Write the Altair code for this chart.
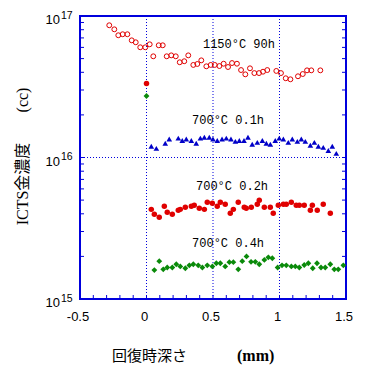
import altair as alt
import pandas as pd

BLUE = "#0000dd"

# 1150°C 90h (open red circles)
red_open_x = [-0.280, -0.242, -0.212, -0.179, -0.144, -0.111, -0.081, -0.047, -0.009, 0.024,
              0.051, 0.092, 0.122, 0.152, 0.186, 0.220, 0.250, 0.284, 0.314, 0.352,
              0.382, 0.412, 0.450, 0.483, 0.513, 0.548, 0.580, 0.613, 0.643, 0.680,
              0.711, 0.743, 0.778, 0.811, 0.846, 0.876, 0.908, 0.976, 1.011, 1.047,
              1.082, 1.139, 1.175, 1.207, 1.239, 1.307]
red_open_y = [8.6e16, 8.05e16, 7.31e16, 7.43e16, 7.43e16, 6.73e16, 6.52e16, 6.01e16, 6.01e16, 6.31e16,
              5.19e16, 6.21e16, 6.21e16, 5.19e16, 5.27e16, 5.19e16, 4.71e16, 4.79e16, 5.27e16, 4.51e16,
              4.58e16, 4.86e16, 4.41e16, 4.51e16, 4.51e16, 4.43e16, 4.60e16, 4.36e16, 4.65e16, 4.60e16,
              4.15e16, 3.87e16, 4.27e16, 3.95e16, 3.95e16, 4.04e16, 4.15e16, 4.09e16, 3.95e16, 3.63e16,
              3.57e16, 3.75e16, 3.89e16, 4.13e16, 4.13e16, 4.13e16]

# 700°C 0.1h (blue triangles)
blue_x = [0.036, 0.074, 0.141, 0.171, 0.239, 0.269, 0.299, 0.337, 0.374, 0.405,
          0.435, 0.472, 0.500, 0.532, 0.568, 0.600, 0.635, 0.668, 0.698, 0.733,
          0.763, 0.795, 0.833, 0.871, 0.901, 0.931, 0.968, 0.998, 1.029, 1.066,
          1.096, 1.134, 1.164, 1.194, 1.232, 1.262, 1.292, 1.329, 1.367, 1.397, 1.427]
blue_y = [1.20e16, 1.16e16, 1.26e16, 1.35e16, 1.37e16, 1.32e16, 1.35e16, 1.32e16, 1.26e16, 1.37e16,
          1.39e16, 1.39e16, 1.35e16, 1.32e16, 1.35e16, 1.37e16, 1.35e16, 1.30e16, 1.32e16, 1.32e16,
          1.39e16, 1.24e16, 1.28e16, 1.32e16, 1.26e16, 1.24e16, 1.32e16, 1.37e16, 1.35e16, 1.28e16,
          1.35e16, 1.30e16, 1.35e16, 1.30e16, 1.22e16, 1.28e16, 1.20e16, 1.18e16, 1.12e16, 1.20e16, 1.07e16]

# 700°C 0.2h (filled red circles)
red_x = [0.0, 0.036, 0.059, 0.096, 0.134, 0.156, 0.194, 0.239, 0.254, 0.292, 0.337,
         0.359, 0.397, 0.435, 0.457, 0.495, 0.532, 0.555, 0.592, 0.630, 0.653,
         0.690, 0.735, 0.750, 0.788, 0.833, 0.848, 0.886, 0.931, 0.953, 0.991,
         1.029, 1.051, 1.089, 1.126, 1.149, 1.186, 1.232, 1.247, 1.284, 1.329, 1.382]
red_y = [3.34e16, 4.30e15, 3.97e15, 3.78e15, 4.52e15, 4.10e15, 3.97e15, 4.24e15, 4.30e15, 4.45e15, 4.52e15,
         4.59e15, 4.38e15, 4.30e15, 4.82e15, 4.75e15, 4.52e15, 4.82e15, 4.67e15, 4.03e15, 4.30e15,
         4.82e15, 4.45e15, 4.38e15, 4.45e15, 4.67e15, 4.98e15, 4.45e15, 4.45e15, 4.03e15, 4.59e15,
         4.67e15, 4.67e15, 4.82e15, 4.59e15, 4.59e15, 4.59e15, 4.24e15, 4.59e15, 4.24e15, 4.67e15, 4.03e15]

# 700°C 0.4h (green diamonds)
green_x = [0.0, 0.059, 0.096, 0.126, 0.156, 0.194, 0.224, 0.254, 0.292, 0.322, 0.352,
           0.389, 0.420, 0.457, 0.495, 0.525, 0.555, 0.592, 0.623, 0.653,
           0.690, 0.720, 0.752, 0.786, 0.818, 0.848, 0.886, 0.916, 0.946, 0.986,
           1.019, 1.051, 1.089, 1.119, 1.149, 1.186, 1.217, 1.250, 1.282, 1.312,
           1.344, 1.382, 1.412, 1.442, 1.480]
green_y = [2.72e16, 1.60e15, 1.85e15, 1.62e15, 1.67e15, 1.67e15, 1.76e15, 1.70e15, 1.65e15, 1.73e15, 1.76e15,
           1.73e15, 1.67e15, 1.73e15, 1.70e15, 1.79e15, 1.79e15, 1.70e15, 1.82e15, 1.82e15,
           1.62e15, 1.85e15, 2.00e15, 1.83e15, 1.83e15, 1.76e15, 1.89e15, 1.97e15, 1.94e15, 1.67e15,
           1.73e15, 1.73e15, 1.70e15, 1.70e15, 1.67e15, 1.74e15, 1.79e15, 1.65e15, 1.79e15, 1.67e15,
           1.67e15, 1.76e15, 1.62e15, 1.62e15, 1.73e15]

# annotations
ann_labels = ["1150°C 90h", "700°C 0.1h", "700°C 0.2h", "700°C 0.4h"]
ann_x = [0.695, 0.613, 0.643, 0.613]
ann_y = [6.34e16, 1.84e16, 6.32e15, 2.50e15]

# axis ticks / labels
x_ticks = [-0.5, -0.4, -0.3, -0.2, -0.1, 0.0, 0.1, 0.2, 0.3, 0.4, 0.5, 0.6, 0.7, 0.8, 0.9,
           1.0, 1.1, 1.2, 1.3, 1.4, 1.5]
x_label_values = [-0.5, 0.0, 0.5, 1.0, 1.5]
x_label_text = ["-0.5", "0", "0.5", "1", "1.5"]
y_ticks = [2e15, 3e15, 4e15, 5e15, 6e15, 7e15, 8e15, 9e15,
           1e16, 2e16, 3e16, 4e16, 5e16, 6e16, 7e16, 8e16, 9e16]
y_label_values = [1e15, 1e16, 1e17]
y_label_exps = ["15", "16", "17"]
grid_x = [0.0, 0.5, 1.0]
grid_y = [1e16]
x_title_parts = ["回復時深さ", "(mm)"]
y_title_parts = ["ICTS金濃度", "(cc)"]

W, H = 266, 283
xscale = alt.Scale(domain=[-0.5, 1.5], nice=False, zero=False)
yscale = alt.Scale(type="log", domain=[1e15, 1e17], nice=False)

df_ro = pd.DataFrame({"x": red_open_x, "y": red_open_y})
df_b = pd.DataFrame({"x": blue_x, "y": blue_y})
df_r = pd.DataFrame({"x": red_x, "y": red_y})
df_g = pd.DataFrame({"x": green_x, "y": green_y})
df_ann = pd.DataFrame({"label": ann_labels, "x": ann_x, "y": ann_y})
df_yl = pd.DataFrame({"v": y_label_values, "e": y_label_exps})
df_xl = pd.DataFrame({"v": x_label_values, "t": x_label_text})
df_xt = pd.DataFrame({"v": x_ticks})
df_yt = pd.DataFrame({"v": y_ticks})
df_gx = pd.DataFrame({"gx": grid_x})
df_gy = pd.DataFrame({"gy": grid_y})

X = lambda f: alt.X(f, scale=xscale, axis=None)
Y = lambda f: alt.Y(f, scale=yscale, axis=None)

gridx = alt.Chart(df_gx).mark_rule(color=BLUE, strokeWidth=1, strokeDash=[1, 2]).encode(x=X("gx:Q"))
gridy = alt.Chart(df_gy).mark_rule(color=BLUE, strokeWidth=1, strokeDash=[1, 2]).encode(y=Y("gy:Q"))

ticks_b = alt.Chart(df_xt).mark_rule(color=BLUE, strokeWidth=1).encode(
    x=X("v:Q"), y=alt.value(H - 4), y2=alt.value(H))
ticks_l = alt.Chart(df_yt).mark_rule(color=BLUE, strokeWidth=1).encode(
    y=Y("v:Q"), x=alt.value(0), x2=alt.value(4))
ticks_r = alt.Chart(df_yt).mark_rule(color=BLUE, strokeWidth=1).encode(
    y=Y("v:Q"), x=alt.value(W - 4), x2=alt.value(W))

ro = alt.Chart(df_ro).mark_point(shape="circle", filled=False, color="#e00000", strokeWidth=1, size=24, opacity=1).encode(x=X("x:Q"), y=Y("y:Q"))
bl = alt.Chart(df_b).mark_point(shape="triangle-up", filled=True, color="#0000c8", size=32, opacity=1).encode(x=X("x:Q"), y=Y("y:Q"))
rf = alt.Chart(df_r).mark_point(shape="circle", filled=True, color="#e00000", size=30, opacity=1).encode(x=X("x:Q"), y=Y("y:Q"))
gr = alt.Chart(df_g).mark_point(shape="diamond", filled=True, color="#0a8a0a", size=34, opacity=1).encode(x=X("x:Q"), y=Y("y:Q"))

ann = alt.Chart(df_ann).mark_text(font="Liberation Mono", fontSize=12, color="black", align="center", baseline="middle").encode(
    x=X("x:Q"), y=Y("y:Q"), text="label:N")

ten = alt.Chart(df_yl).mark_text(font="Liberation Sans", fontSize=13, color="black", align="right", baseline="alphabetic", dy=8).encode(
    x=alt.value(-20), y=Y("v:Q"), text=alt.value("10"))
exps = alt.Chart(df_yl).mark_text(font="Liberation Sans", fontSize=10.5, color="black", align="left", baseline="alphabetic", dy=2.5).encode(
    x=alt.value(-19), y=Y("v:Q"), text="e:N")

xlab = alt.Chart(df_xl).mark_text(font="Liberation Sans", fontSize=13, color="black", align="center", baseline="top", dx=-2).encode(
    x=X("v:Q"), y=alt.value(H + 12), text="t:N")

df_xt1 = pd.DataFrame({"t": [x_title_parts[0]]})
df_xt2 = pd.DataFrame({"t": [x_title_parts[1]]})
df_yt1 = pd.DataFrame({"t": [y_title_parts[0]]})
df_yt2 = pd.DataFrame({"t": [y_title_parts[1]]})

xt1 = alt.Chart(df_xt1).mark_text(font="Noto Sans CJK JP", fontSize=15, color="black", align="left", baseline="alphabetic").encode(
    x=alt.value(32), y=alt.value(H + 62), text="t:N")
xt2 = alt.Chart(df_xt2).mark_text(font="Liberation Serif", fontSize=16, fontWeight="bold", color="black", align="left", baseline="alphabetic").encode(
    x=alt.value(157), y=alt.value(H + 62), text="t:N")
yt1 = alt.Chart(df_yt1).mark_text(font="Liberation Serif, Noto Sans CJK JP", fontSize=16, color="black", align="center", baseline="middle", angle=270).encode(
    x=alt.value(-57), y=alt.value(168), text="t:N")
yt2 = alt.Chart(df_yt2).mark_text(font="Liberation Serif", fontSize=16, color="black", align="center", baseline="middle", angle=270).encode(
    x=alt.value(-57), y=alt.value(84), text="t:N")

chart = alt.layer(
    gridx, gridy, ticks_b, ticks_l, ticks_r, ro, bl, rf, gr, ann, ten, exps, xlab, xt1, xt2, yt1, yt2
).properties(
    width=W, height=H,
    autosize=alt.AutoSizeParams(type="none"),
    padding={"left": 72, "top": 8, "right": 12, "bottom": 76},
    background="white",
).configure_view(stroke=BLUE, strokeWidth=2)

chart.save("out.html", embed_options={"renderer": "svg", "actions": False})
